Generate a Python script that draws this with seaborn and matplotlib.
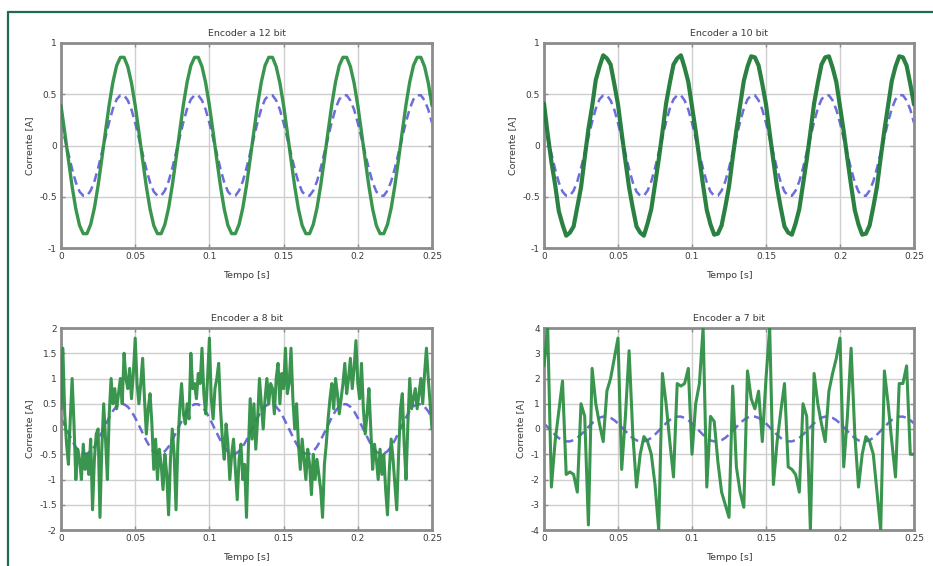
import numpy as np
import matplotlib
matplotlib.use("Agg")
import matplotlib.pyplot as plt
import seaborn as sns
from matplotlib.lines import Line2D

# ---------------- data ----------------
titles = ["Encoder a 12 bit", "Encoder a 10 bit", "Encoder a 8 bit", "Encoder a 7 bit"]
x_label = "Tempo [s]"
y_label = "Corrente [A]"
x_ticks = [0, 0.05, 0.1, 0.15, 0.2, 0.25]
x_ticklabels = ["0", "0.05", "0.1", "0.15", "0.2", "0.25"]
y_ticks_top = [-1, -0.5, 0, 0.5, 1]
y_ticklabels_top = ["-1", "-0.5", "0", "0.5", "1"]
y_ticks_8 = [-2, -1.5, -1, -0.5, 0, 0.5, 1, 1.5, 2]
y_ticklabels_8 = ["-2", "-1.5", "-1", "-0.5", "0", "0.5", "1", "1.5", "2"]
y_ticks_7 = [-4, -3, -2, -1, 0, 1, 2, 3, 4]
y_ticklabels_7 = ["-4", "-3", "-2", "-1", "0", "1", "2", "3", "4"]

# time grids (s)
t_coarse = np.linspace(0, 0.25, 101)   # 2.5 ms step
t_fine = np.linspace(0, 0.25, 201)     # 1.25 ms step

# reference current (blue dashed)
ref_current = [
    0.22, 0.07, -0.08, -0.23, -0.36, -0.45, -0.49, -0.49, -0.44, -0.35,
    -0.22, -0.07, 0.08, 0.23, 0.36, 0.45, 0.49, 0.49, 0.44, 0.35,
    0.22, 0.07, -0.08, -0.23, -0.36, -0.45, -0.49, -0.49, -0.44, -0.35,
    -0.22, -0.07, 0.08, 0.23, 0.36, 0.45, 0.49, 0.49, 0.44, 0.35,
    0.22, 0.07, -0.08, -0.23, -0.36, -0.45, -0.49, -0.49, -0.44, -0.35,
    -0.22, -0.07, 0.08, 0.23, 0.36, 0.45, 0.49, 0.49, 0.44, 0.35,
    0.22, 0.07, -0.08, -0.23, -0.36, -0.45, -0.49, -0.49, -0.44, -0.35,
    -0.22, -0.07, 0.08, 0.23, 0.36, 0.45, 0.49, 0.49, 0.44, 0.35,
    0.22, 0.07, -0.08, -0.23, -0.36, -0.45, -0.49, -0.49, -0.44, -0.35,
    -0.22, -0.07, 0.08, 0.23, 0.36, 0.45, 0.49, 0.49, 0.44, 0.35,
    0.22,
]

# measured current, 12 bit encoder
current_12bit = [
    0.39, 0.13, -0.14, -0.40, -0.62, -0.78, -0.86, -0.86, -0.77, -0.61,
    -0.39, -0.13, 0.14, 0.40, 0.62, 0.78, 0.86, 0.86, 0.77, 0.61,
    0.39, 0.13, -0.14, -0.40, -0.62, -0.78, -0.86, -0.86, -0.77, -0.61,
    -0.39, -0.13, 0.14, 0.40, 0.62, 0.78, 0.86, 0.86, 0.77, 0.61,
    0.39, 0.13, -0.14, -0.40, -0.62, -0.78, -0.86, -0.86, -0.77, -0.61,
    -0.39, -0.13, 0.14, 0.40, 0.62, 0.78, 0.86, 0.86, 0.77, 0.61,
    0.39, 0.13, -0.14, -0.40, -0.62, -0.78, -0.86, -0.86, -0.77, -0.61,
    -0.39, -0.13, 0.14, 0.40, 0.62, 0.78, 0.86, 0.86, 0.77, 0.61,
    0.39, 0.13, -0.14, -0.40, -0.62, -0.78, -0.86, -0.86, -0.77, -0.61,
    -0.39, -0.13, 0.14, 0.40, 0.62, 0.78, 0.86, 0.86, 0.77, 0.61,
    0.39,
]

# measured current, 10 bit encoder
current_10bit = [
    0.41, 0.11, -0.16, -0.38, -0.64, -0.77, -0.88, -0.85, -0.79, -0.60,
    -0.41, -0.12, 0.16, 0.38, 0.64, 0.77, 0.88, 0.85, 0.79, 0.60,
    0.40, 0.12, -0.15, -0.41, -0.61, -0.79, -0.85, -0.88, -0.76, -0.62,
    -0.38, -0.14, 0.13, 0.41, 0.61, 0.79, 0.85, 0.88, 0.76, 0.62,
    0.38, 0.14, -0.13, -0.39, -0.63, -0.77, -0.87, -0.86, -0.78, -0.60,
    -0.40, -0.12, 0.15, 0.39, 0.63, 0.77, 0.87, 0.86, 0.78, 0.60,
    0.40, 0.12, -0.15, -0.41, -0.61, -0.79, -0.85, -0.87, -0.76, -0.62,
    -0.38, -0.14, 0.13, 0.41, 0.61, 0.79, 0.86, 0.87, 0.76, 0.62,
    0.38, 0.14, -0.13, -0.39, -0.63, -0.77, -0.87, -0.86, -0.78, -0.60,
    -0.40, -0.12, 0.15, 0.39, 0.63, 0.77, 0.87, 0.86, 0.78, 0.60,
    0.40,
]

# measured current, 8 bit encoder (1.25 ms samples)
current_8bit = [
    0.4, 1.6, 0.3, -0.3, -0.7, 0.2, 1.0, 0.1, -1.0, -0.4,
    -0.6, -1.0, -0.3, -0.8, -0.5, -0.9, -0.2, -1.6, -0.6, -0.1,
    0.0, -1.75, -0.4, 0.5, -0.2, -1.0, 0.3, 1.0, 0.5, 0.8,
    0.4, 0.7, 1.0, 0.5, 1.5, 1.0, 0.8, 1.2, 0.6, 1.1,
    1.8, 0.9, 0.5, 0.9, 1.4, 0.6, -0.1, 0.4, 0.7, 0.1,
    -0.8, -0.2, -1.0, -0.4, -0.7, -1.2, -0.5, -0.9, -1.7, -0.6,
    0.0, -0.5, -1.6, -0.3, 0.4, 0.9, 0.3, 0.1, 0.5, 0.2,
    1.5, 0.8, 0.9, 0.6, 1.1, 0.9, 1.6, 0.7, 0.3, 1.0,
    1.8, 0.6, 0.2, 0.8, 1.0, 1.3, 0.4, -0.2, -0.6, 0.1,
    -0.3, -1.0, -0.5, -0.2, -0.8, -1.4, -0.6, -0.3, -1.0, -0.7,
    -1.75, -0.4, 0.6, -0.2, 0.5, -0.4, 0.2, 1.0, 0.5, 0.0,
    0.6, 1.0, 0.5, 0.9, 0.8, 0.3, 1.0, 1.3, 0.5, 1.1,
    0.8, 1.6, 0.7, 0.9, 1.6, 0.6, 0.0, 0.5, -0.3, -0.8,
    -0.2, -0.6, -1.0, -0.4, -0.7, -1.3, -0.5, -1.0, -0.6, -0.9,
    -1.2, -1.75, -0.7, -0.3, 0.2, 0.6, 0.9, 0.4, 1.0, 0.7,
    0.3, 0.6, 0.9, 1.3, 0.7, 1.0, 1.4, 0.8, 1.2, 1.75,
    0.9, 0.6, 1.3, 0.4, -0.1, 0.3, 0.8, 0.0, -0.8, -0.3,
    -0.6, -1.0, -0.4, -0.9, -0.5, -1.2, -1.7, -0.8, -0.2, -0.6,
    -1.1, -1.6, -0.5, 0.4, 0.7, -0.3, -1.0, 0.1, 1.0, 0.4,
    0.6, 0.8, 0.4, 0.7, 1.0, 0.5, 1.1, 1.6, 1.0, 0.5,
    0.0,
]

# measured current, 7 bit encoder (2.5 ms samples)
current_7bit = [
    2.5, 4.0, -2.3, -0.5, 0.7, 1.9, -1.8, -1.7, -1.8, -2.5,
    1.0, 0.5, -3.8, 2.4, 1.0, 0.2, -0.5, 1.5, 2.0, 2.8,
    3.6, -1.6, 0.5, 3.1, -0.2, -2.3, -1.0, -0.3, -0.5, -1.0,
    -2.2, -4.0, 2.2, 1.0, -0.5, -1.9, 1.8, 1.7, 1.8, 2.4,
    -1.0, 1.0, 1.8, 4.0, -2.3, 0.5, 0.3, -1.3, -2.5, -3.0,
    -3.5, 1.7, -1.5, -2.5, -3.1, 2.3, 1.2, 0.8, 1.5, -0.5,
    2.0, 4.0, -2.2, -0.5, 0.7, 1.8, -1.5, -1.6, -1.8, -2.5,
    1.0, 0.5, -4.0, 2.2, 1.0, 0.2, -0.5, 1.5, 2.2, 2.8,
    3.6, -1.5, 0.5, 3.2, -0.2, -2.3, -1.0, -0.3, -0.5, -1.0,
    -2.5, -4.0, 2.3, 1.0, -0.5, -1.9, 1.8, 1.8, 2.5, -1.0,
    -1.0,
]

# ---------------- styling ----------------
sns.set_theme(style="white")
plt.rcParams["font.family"] = ["DejaVu Sans"]

GREEN = "#2f8f45"
GREEN_DARK = "#1f7a38"
BLUE = "#5c5cd8"
TEXT = "#3a3a3a"
FRAME = "#8c8c8c"
GRID = "#cfcfcf"
BORDER = "#1d6b50"

fig = plt.figure(figsize=(9.33, 5.66), dpi=100)
fig.patch.set_facecolor("white")

W, H = 933, 566
def px_rect(l, t, r, b):
    return [l / W, 1 - b / H, (r - l) / W, (b - t) / H]

ax_tl = fig.add_axes(px_rect(61, 43, 432, 248))
ax_tr = fig.add_axes(px_rect(544, 43, 914, 248))
ax_bl = fig.add_axes(px_rect(61, 328, 432, 530))
ax_br = fig.add_axes(px_rect(544, 328, 914, 530))

panels = [
    (ax_tl, t_coarse, current_12bit, GREEN, 2.4, y_ticks_top, y_ticklabels_top, (-1, 1)),
    (ax_tr, t_coarse, current_10bit, GREEN_DARK, 3.0, y_ticks_top, y_ticklabels_top, (-1, 1)),
    (ax_bl, t_fine, current_8bit, GREEN, 2.2, y_ticks_8, y_ticklabels_8, (-2, 2)),
    (ax_br, t_coarse, current_7bit, GREEN, 2.2, y_ticks_7, y_ticklabels_7, (-4, 4)),
]

for (ax, tt, yy, col, lw, yt, ytl, ylim), title in zip(panels, titles):
    sns.lineplot(x=t_coarse, y=ref_current, ax=ax, color=BLUE, linewidth=1.8,
                 linestyle=(0, (3.5, 2.0)), alpha=0.9, zorder=2)
    sns.lineplot(x=tt, y=yy, ax=ax, color=col, linewidth=lw, zorder=3, alpha=0.95)
    ax.set_xlim(0, 0.25)
    ax.set_ylim(*ylim)
    ax.set_xticks(x_ticks)
    ax.set_xticklabels(x_ticklabels)
    ax.set_yticks(yt)
    ax.set_yticklabels(ytl)
    ax.grid(True, color=GRID, linewidth=1.0, linestyle="-")
    ax.set_axisbelow(True)
    for s in ax.spines.values():
        s.set_color(FRAME)
        s.set_linewidth(2.0)
    ax.tick_params(direction="in", length=3, width=1, colors=FRAME,
                   labelcolor=TEXT, labelsize=6.5, pad=3,
                   top=True, right=True, bottom=True, left=True)
    ax.set_title(title, fontsize=6.8, color=TEXT, pad=5)
    ax.set_xlabel(x_label, fontsize=6.8, color=TEXT, labelpad=7)
    ax.set_ylabel(y_label, fontsize=6.8, color=TEXT, labelpad=4)

# frame of the figure (dark green, top and left)
fig.add_artist(Line2D([8 / W, 8 / W], [0, 1 - 12 / H], transform=fig.transFigure,
                      color=BORDER, linewidth=1.6))
fig.add_artist(Line2D([8 / W, 1], [1 - 12 / H, 1 - 12 / H], transform=fig.transFigure,
                      color=BORDER, linewidth=1.6))

fig.savefig("out.png", dpi=100, facecolor="white")
